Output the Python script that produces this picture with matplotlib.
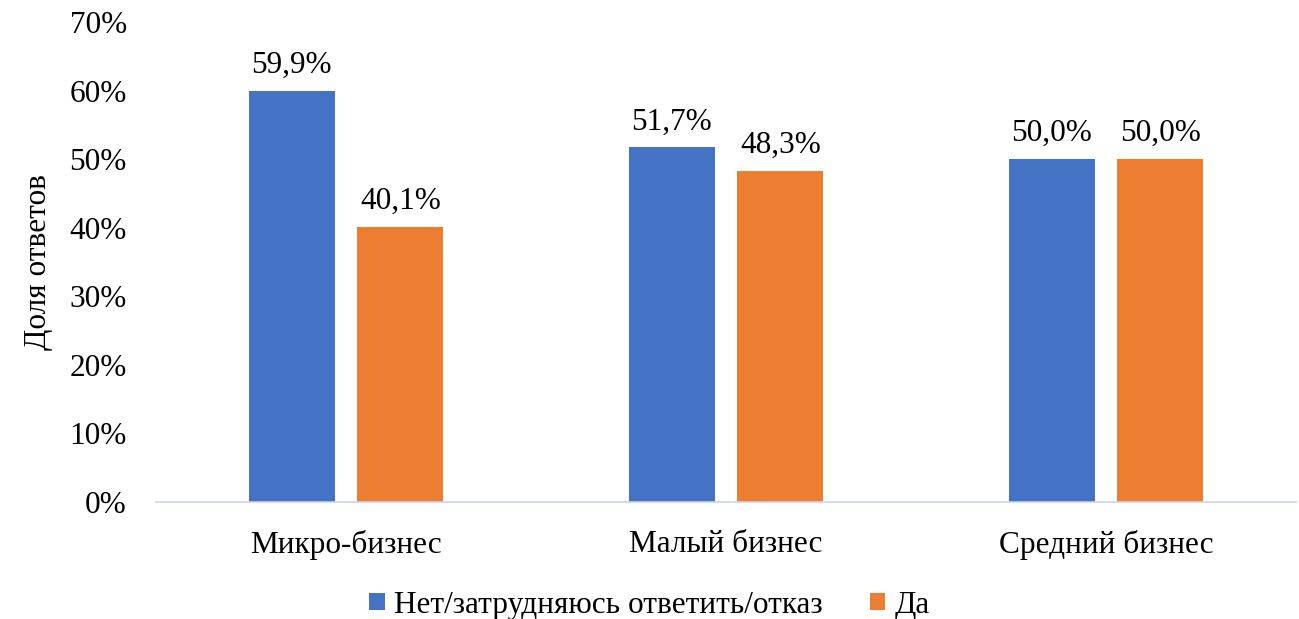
import numpy as np
import matplotlib.pyplot as plt
from matplotlib.ticker import FuncFormatter

plt.rcParams['font.family'] = ['Liberation Serif', 'DejaVu Serif']

categories = ['Микро-бизнес', 'Малый бизнес', 'Средний бизнес']
series_names = ['Нет/затрудняюсь ответить/отказ', 'Да']
no_values = [59.9, 51.7, 50.0]
yes_values = [40.1, 48.3, 50.0]

BLUE = '#4472C4'
ORANGE = '#ED7D31'
FS = 22.5

fig = plt.figure(figsize=(12.99, 6.19), dpi=100)
ax = fig.add_axes([156 / 1299, 1 - 502 / 619, 1140 / 1299, 480 / 619])

x = np.arange(len(categories))
w = 0.226
off = 0.143
b1 = ax.bar(x - off, no_values, w, color=BLUE, label=series_names[0])
b2 = ax.bar(x + off, yes_values, w, color=ORANGE, label=series_names[1])

for bars, vals in [(b1, no_values), (b2, yes_values)]:
    for b, v in zip(bars, vals):
        ax.annotate(f'{v:.1f}%'.replace('.', ','), (b.get_x() + b.get_width() / 2, v),
                    xytext=(0, 8), textcoords='offset points',
                    ha='center', va='bottom', fontsize=FS)

ax.set_xlim(-0.5, 2.5)
ax.set_ylim(0, 70)
ax.set_yticks(np.arange(0, 71, 10))
ax.yaxis.set_major_formatter(FuncFormatter(lambda v, p: f'{v:.0f}%'))
ax.set_xticks(x)
ax.set_xticklabels(categories)
ax.tick_params(axis='both', length=0, labelsize=FS)
ax.tick_params(axis='y', pad=21)
ax.tick_params(axis='x', pad=20)

for s in ['top', 'right', 'left']:
    ax.spines[s].set_visible(False)
ax.spines['bottom'].set_color('#C9D3E8')
ax.spines['bottom'].set_linewidth(1.2)

ax.set_ylabel('Доля ответов', fontsize=FS, labelpad=11.5)

fig.legend(handles=[b1, b2], labels=series_names, loc='center',
           bbox_to_anchor=(0.5, 1 - 605 / 619), ncol=2, frameon=False,
           prop={'family': ['Liberation Serif'], 'size': FS},
           handlelength=0.5, handleheight=0.5,
           handletextpad=0.3, columnspacing=1.5)

fig.savefig('out.png', dpi=100)
